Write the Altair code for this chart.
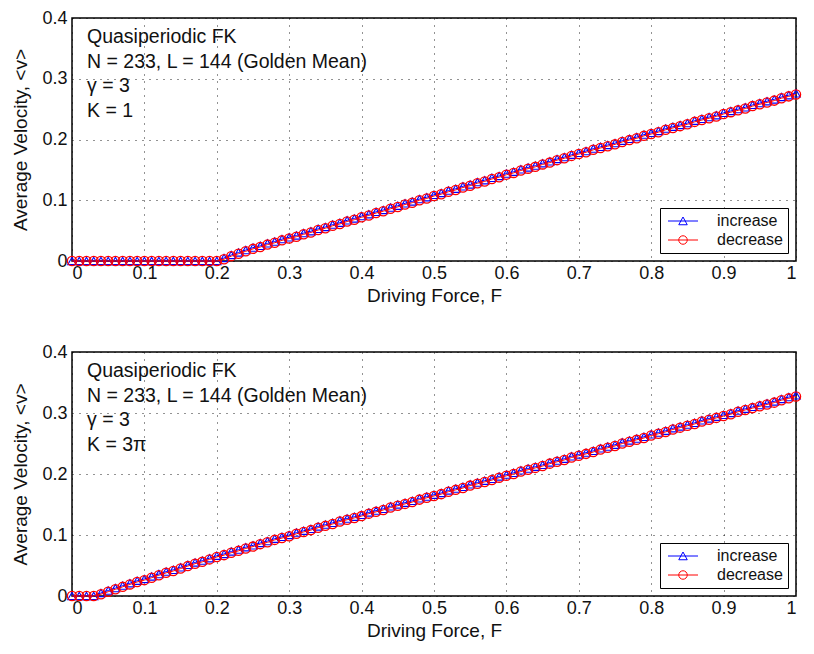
import altair as alt
import pandas as pd

# Driving force grid (0 .. 1, step 0.01)
F = [round(i * 0.01, 2) for i in range(101)]

# Top panel (K = 1)
top_inc = [0]*21 + [
    0.005, 0.010, 0.014, 0.018, 0.022, 0.025, 0.029, 0.032, 0.036, 0.039,
    0.042, 0.046, 0.049, 0.053, 0.056, 0.060, 0.063, 0.067, 0.070, 0.074,
    0.077, 0.081, 0.084, 0.088, 0.091, 0.095, 0.098, 0.102, 0.105, 0.109,
    0.112, 0.116, 0.119, 0.123, 0.126, 0.130, 0.133, 0.137, 0.140, 0.144,
    0.147, 0.151, 0.154, 0.157, 0.161, 0.164, 0.168, 0.171, 0.175, 0.178,
    0.181, 0.185, 0.188, 0.191, 0.194, 0.198, 0.201, 0.204, 0.208, 0.211,
    0.214, 0.218, 0.221, 0.224, 0.227, 0.231, 0.234, 0.237, 0.240, 0.244,
    0.247, 0.250, 0.253, 0.257, 0.260, 0.263, 0.266, 0.270, 0.273, 0.276]
top_dec = [0]*21 + [
    0.003, 0.008, 0.012, 0.016, 0.020, 0.023, 0.027, 0.030, 0.034, 0.037,
    0.040, 0.044, 0.047, 0.051, 0.054, 0.058, 0.061, 0.065, 0.068, 0.072,
    0.075, 0.079, 0.082, 0.086, 0.089, 0.093, 0.096, 0.100, 0.103, 0.107,
    0.110, 0.114, 0.117, 0.121, 0.124, 0.128, 0.131, 0.135, 0.138, 0.142,
    0.145, 0.149, 0.152, 0.155, 0.159, 0.162, 0.166, 0.169, 0.173, 0.176,
    0.179, 0.183, 0.186, 0.189, 0.192, 0.196, 0.199, 0.202, 0.206, 0.209,
    0.212, 0.216, 0.219, 0.222, 0.225, 0.229, 0.232, 0.235, 0.238, 0.242,
    0.245, 0.248, 0.251, 0.255, 0.258, 0.261, 0.264, 0.268, 0.271, 0.274]

# Bottom panel (K = 3π)
bot_inc = [0]*4 + [
    0.005, 0.009, 0.013, 0.017, 0.021, 0.025, 0.028, 0.032, 0.036, 0.040,
    0.043, 0.047, 0.051, 0.055, 0.058, 0.062, 0.066, 0.069, 0.073, 0.076,
    0.080, 0.083, 0.087, 0.090, 0.094, 0.097, 0.100, 0.104, 0.107, 0.110,
    0.114, 0.117, 0.120, 0.124, 0.127, 0.130, 0.133, 0.137, 0.140, 0.143,
    0.147, 0.150, 0.153, 0.156, 0.160, 0.163, 0.166, 0.169, 0.173, 0.176,
    0.179, 0.183, 0.186, 0.189, 0.192, 0.196, 0.199, 0.202, 0.206, 0.209,
    0.212, 0.215, 0.219, 0.222, 0.225, 0.229, 0.232, 0.235, 0.238, 0.242,
    0.245, 0.248, 0.252, 0.255, 0.258, 0.261, 0.265, 0.268, 0.271, 0.275,
    0.278, 0.281, 0.284, 0.288, 0.291, 0.294, 0.297, 0.300, 0.304, 0.307,
    0.310, 0.313, 0.316, 0.319, 0.323, 0.326, 0.329]
bot_dec = [0]*4 + [
    0.003, 0.007, 0.011, 0.015, 0.019, 0.023, 0.026, 0.030, 0.034, 0.038,
    0.041, 0.045, 0.049, 0.053, 0.056, 0.060, 0.064, 0.067, 0.071, 0.074,
    0.078, 0.081, 0.085, 0.088, 0.092, 0.095, 0.098, 0.102, 0.105, 0.108,
    0.112, 0.115, 0.118, 0.122, 0.125, 0.128, 0.131, 0.135, 0.138, 0.141,
    0.145, 0.148, 0.151, 0.154, 0.158, 0.161, 0.164, 0.167, 0.171, 0.174,
    0.177, 0.181, 0.184, 0.187, 0.190, 0.194, 0.197, 0.200, 0.204, 0.207,
    0.210, 0.213, 0.217, 0.220, 0.223, 0.227, 0.230, 0.233, 0.236, 0.240,
    0.243, 0.246, 0.250, 0.253, 0.256, 0.259, 0.263, 0.266, 0.269, 0.273,
    0.276, 0.279, 0.282, 0.286, 0.289, 0.292, 0.295, 0.298, 0.302, 0.305,
    0.308, 0.311, 0.314, 0.317, 0.321, 0.324, 0.327]

top_text = ["Quasiperiodic FK", "N = 233, L = 144 (Golden Mean)", "γ = 3", "K = 1"]
bot_text = ["Quasiperiodic FK", "N = 233, L = 144 (Golden Mean)", "γ = 3", "K = 3π"]

series_names = ["increase", "decrease"]
series_colors = ["#0000ff", "#ff0000"]
x_ticks = [0, 0.1, 0.2, 0.3, 0.4, 0.5, 0.6, 0.7, 0.8, 0.9, 1]
y_ticks = [0, 0.1, 0.2, 0.3, 0.4]

FONT = "Liberation Sans"
# legend glyphs: a line with the marker on it (unit = 5 px at symbolSize 100)
TRI_PATH = "M-3,0L3,0M0,-0.8L-0.85,0.75L0.85,0.75Z"
CIRC_PATH = "M-3,0L3,0M0.85,0A0.85,0.85,0,1,1,-0.85,0A0.85,0.85,0,1,1,0.85,0"


def panel(inc, dec, lines, h):
    df = pd.DataFrame({
        "F": F + F,
        "v": inc + dec,
        "series": [series_names[0]] * len(F) + [series_names[1]] * len(F),
    })
    base = alt.Chart(df)
    x = alt.X("F:Q", scale=alt.Scale(domain=[0, 1], nice=False),
              axis=alt.Axis(values=x_ticks, format="~g", title="Driving Force, F"))
    y = alt.Y("v:Q", scale=alt.Scale(domain=[0, 0.4], nice=False),
              axis=alt.Axis(values=y_ticks, format="~g", title="Average Velocity, <v>"))
    inc_f = base.transform_filter(alt.datum.series == series_names[0])
    dec_f = base.transform_filter(alt.datum.series == series_names[1])
    l1 = inc_f.mark_line(color=series_colors[0], strokeWidth=1).encode(x=x, y=y)
    p1 = inc_f.mark_point(shape="triangle-up", color=series_colors[0], filled=False,
                          size=72, strokeWidth=1.1, opacity=1).encode(x=x, y=y)
    l2 = dec_f.mark_line(color=series_colors[1], strokeWidth=1).encode(x=x, y=y)
    p2 = dec_f.mark_point(shape="circle", color=series_colors[1], filled=False,
                          size=85, strokeWidth=1.3, opacity=1).encode(x=x, y=y)
    leg = alt.Legend(title=None, orient="bottom-right", offset=8, symbolSize=100,
                     symbolOffset=10, symbolOpacity=1, symbolStrokeWidth=1,
                     labelFontSize=16, labelFont=FONT, labelColor="#111",
                     labelOffset=26, padding=5, rowPadding=3,
                     strokeColor="#000", fillColor="#fff", cornerRadius=0)
    leg_layer = base.transform_filter(alt.datum.F == 0).mark_point(
        opacity=0, filled=False).encode(
        x=x, y=y,
        stroke=alt.Stroke("series:N", scale=alt.Scale(domain=series_names, range=series_colors), legend=leg),
        shape=alt.Shape("series:N", scale=alt.Scale(domain=series_names, range=[TRI_PATH, CIRC_PATH]), legend=leg),
    )
    txt = alt.Chart(pd.DataFrame({"k": [0]})).mark_text(
        align="left", baseline="alphabetic", font=FONT, fontSize=19.5,
        lineHeight=24.5, color="#111").encode(
        x=alt.value(15), y=alt.value(25), text=alt.value(lines))
    return alt.layer(l1, p1, l2, p2, leg_layer, txt).properties(width=724, height=h)


chart = alt.vconcat(
    panel(top_inc, top_dec, top_text, 243),
    panel(bot_inc, bot_dec, bot_text, 244),
    spacing=36,
).resolve_scale(stroke="independent", shape="independent").resolve_legend(
    stroke="independent", shape="independent"
).properties(
    padding={"left": 3, "top": 0, "right": 0, "bottom": 0},
    background="white",
).configure_view(
    stroke="#000", strokeWidth=1.5
).configure_axis(
    grid=True, gridColor="#000", gridDash=[1, 6], gridWidth=1, gridOpacity=0.85,
    domain=False, ticks=False,
    labelFont=FONT, labelFontSize=18, labelColor="#111",
    titleFont=FONT, titleFontSize=19, titleFontWeight="normal", titleColor="#111",
).configure_axisX(
    labelPadding=3, titlePadding=4
).configure_axisY(
    labelPadding=5, titlePadding=11
)

chart.save("out.html", embed_options={"renderer": "svg", "actions": False})
